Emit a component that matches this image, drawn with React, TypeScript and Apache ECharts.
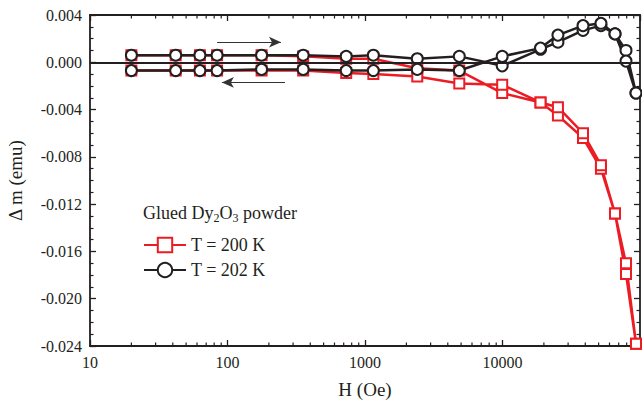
import React, { useEffect, useRef } from "react";
import * as echarts from "echarts";

// Field values (Oe), increasing sweep
const H_VALUES = [20, 42, 63, 84, 177, 355, 730, 1150, 2400, 4850, 9950, 18900, 25300, 38500, 52000, 65800, 79100, 93500];

// T = 200 K
const RED_UP = [0.0006, 0.0006, 0.0006, 0.0006, 0.0006, 0.0005, 0.0003, 0.0003, -0.0005, -0.0007, -0.0026, -0.0034, -0.0045, -0.0064, -0.009, -0.0128, -0.0179, -0.0238];
const RED_DOWN = [-0.0007, -0.0007, -0.0007, -0.0007, -0.0007, -0.0007, -0.0009, -0.001, -0.0012, -0.0018, -0.0019, -0.0034, -0.0038, -0.006, -0.0087, -0.0128, -0.017, -0.0238];

// T = 202 K
const BLACK_UP = [0.0006, 0.0006, 0.0006, 0.0006, 0.0006, 0.0006, 0.0005, 0.0006, 0.0003, 0.0005, -0.0003, 0.0011, 0.0017, 0.0027, 0.0031, 0.0024, 0.001, -0.0026];
const BLACK_DOWN = [-0.0007, -0.0007, -0.0007, -0.0007, -0.0006, -0.0006, -0.0007, -0.0007, -0.0006, -0.0007, 0.0005, 0.0012, 0.0023, 0.0031, 0.0033, 0.0024, 0.0001, -0.0026];

const SERIES_NAMES = ["T = 200 K", "T = 202 K"];
const X_MIN = 10;
const X_MAX = 100000;
const Y_MIN = -0.024;
const Y_MAX = 0.004;
const Y_STEP = 0.004;
const MINOR_X = [2, 3, 4, 5, 6, 7, 8, 9].flatMap((m) => [10, 100, 1000, 10000].map((d) => m * d));

const FONT = "Liberation Serif";
const INK = "#231f20";
const RED = "#ec1c24";

function loop(up: number[], down: number[]) {
  const pts: [number, number][] = [];
  H_VALUES.forEach((h, i) => pts.push([h, up[i]]));
  for (let i = H_VALUES.length - 1; i >= 0; i--) pts.push([H_VALUES[i], down[i]]);
  return pts;
}

export default function App() {
  const ref = useRef<HTMLDivElement>(null);
  useEffect(() => {
    if (!ref.current) return;
    const chart = echarts.init(ref.current, undefined, { renderer: "svg" });
    const axisLine = { show: true, onZero: false, lineStyle: { color: INK, width: 1.8 } };
    const option: any = {
      animation: false,
      backgroundColor: "#fff",
      textStyle: { fontFamily: FONT, color: INK },
      grid: { left: 90, right: 2, top: 15, bottom: 60, containLabel: false, outerBoundsMode: "none" },
      legend: {
        data: SERIES_NAMES,
        orient: "vertical",
        left: 143,
        top: 236,
        padding: 0,
        itemWidth: 42,
        itemHeight: 18,
        itemGap: 7,
        textStyle: { fontFamily: FONT, fontSize: 18, color: INK },
      },
      graphic: [
        {
          type: "text",
          left: 143,
          top: 204,
          style: {
            text: "Glued Dy{s|2}O{s|3} powder",
            fontFamily: FONT,
            fontSize: 18,
            fill: INK,
            rich: { s: { fontFamily: FONT, fontSize: 12, fill: INK, padding: [10, 0, 0, 0] } },
          },
        },
      ],
      xAxis: [
        {
          type: "log",
          logBase: 10,
          min: X_MIN,
          max: X_MAX,
          position: "bottom",
          name: "H (Oe)",
          nameLocation: "middle",
          nameGap: 34,
          nameTextStyle: { fontFamily: FONT, fontSize: 19, color: INK },
          axisLine,
          axisTick: { show: true, inside: true, length: 6, lineStyle: { color: INK, width: 1.3 } },
          axisLabel: {
            fontFamily: FONT,
            fontSize: 16,
            color: INK,
            margin: 8,
            formatter: (v: number) => (v >= X_MAX ? "" : String(Math.round(v))),
          },
          splitLine: { show: false },
        },
        {
          type: "log",
          logBase: 10,
          min: X_MIN,
          max: X_MAX,
          position: "top",
          axisLine,
          axisTick: { show: true, inside: true, length: 6, lineStyle: { color: INK, width: 1.3 } },
          axisLabel: { show: false },
          splitLine: { show: false },
        },
      ],
      yAxis: [
        {
          type: "value",
          min: Y_MIN,
          max: Y_MAX,
          interval: Y_STEP,
          position: "left",
          name: "\u0394 m (emu)",
          nameLocation: "middle",
          nameGap: 65,
          nameRotate: 90,
          nameTextStyle: { fontFamily: FONT, fontSize: 19, color: INK },
          axisLine,
          axisTick: { show: true, inside: true, length: 6, lineStyle: { color: INK, width: 1.3 } },
          minorTick: { show: true, splitNumber: 4, length: 3.5, lineStyle: { color: INK, width: 1.2 } },
          axisLabel: {
            fontFamily: FONT,
            fontSize: 16,
            color: INK,
            margin: 8,
            formatter: (v: number) => (Math.abs(v) < 1e-9 ? "0.000" : v.toFixed(3)),
          },
          splitLine: { show: false },
        },
        {
          type: "value",
          min: Y_MIN,
          max: Y_MAX,
          interval: Y_STEP,
          position: "right",
          axisLine,
          axisTick: { show: true, inside: true, length: 6, lineStyle: { color: INK, width: 1.3 } },
          minorTick: { show: true, splitNumber: 4, length: 3.5, lineStyle: { color: INK, width: 1.2 } },
          axisLabel: { show: false },
          splitLine: { show: false },
        },
      ],
      series: [
        {
          type: "custom",
          silent: true,
          xAxisIndex: 0,
          yAxisIndex: 0,
          data: MINOR_X.map((v) => [v, Y_MIN]),
          encode: { x: 0, y: 1 },
          clip: false,
          z: 1,
          renderItem: (params: any, api: any) => {
            const v = api.value(0);
            const b = api.coord([v, Y_MIN]);
            const t = api.coord([v, Y_MAX]);
            const st = { stroke: INK, lineWidth: 1.2 };
            return {
              type: "group",
              children: [
                { type: "line", shape: { x1: b[0], y1: b[1], x2: b[0], y2: b[1] - 3.5 }, style: st },
                { type: "line", shape: { x1: t[0], y1: t[1], x2: t[0], y2: t[1] + 3.5 }, style: st },
              ],
            };
          },
        },
        {
          name: SERIES_NAMES[0],
          type: "line",
          data: loop(RED_UP, RED_DOWN),
          symbol: "emptyRect",
          symbolSize: 10,
          clip: false,
          color: RED,
          lineStyle: { color: RED, width: 2.5 },
          itemStyle: { color: RED, borderColor: RED, borderWidth: 1.2 },
          z: 3,
        },
        {
          name: SERIES_NAMES[1],
          type: "line",
          data: loop(BLACK_UP, BLACK_DOWN),
          symbol: "emptyCircle",
          symbolSize: 11,
          clip: false,
          color: INK,
          lineStyle: { color: INK, width: 2.5 },
          itemStyle: { color: INK, borderColor: INK, borderWidth: 1.2 },
          z: 4,
          markLine: {
            silent: true,
            animation: false,
            label: { show: false },
            symbol: ["none", "none"],
            data: [
              [
                { coord: [X_MIN, 0], symbol: "none", lineStyle: { color: INK, width: 2, type: "solid" } },
                { coord: [X_MAX, 0], symbol: "none" },
              ],
              [
                { coord: [84, 0.0017], symbol: "none", lineStyle: { color: "#333", width: 1.2, type: "solid" } },
                { coord: [245, 0.0017], symbol: "arrow", symbolSize: [8, 12] },
              ],
              [
                { coord: [262, -0.0017], symbol: "none", lineStyle: { color: "#333", width: 1.2, type: "solid" } },
                { coord: [91, -0.0017], symbol: "arrow", symbolSize: [8, 12] },
              ],
            ],
          },
        },
      ],
    };
    chart.setOption(option);
    return () => chart.dispose();
  }, []);
  return <div ref={ref} style={{ position: "absolute", left: 0, top: 0, width: 642, height: 406 }} />;
}
